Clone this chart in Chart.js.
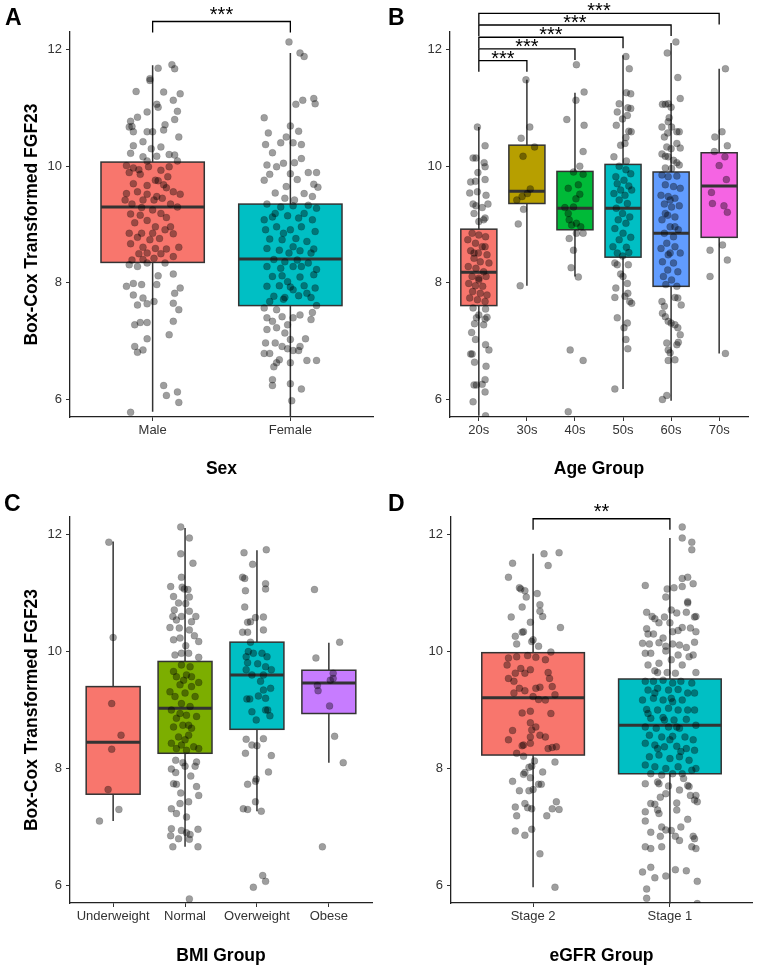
<!DOCTYPE html>
<html>
<head>
<meta charset="utf-8">
<title>FGF23 box plots</title>
<script src="https://cdn.jsdelivr.net/npm/chart.js@4.4.1/dist/chart.umd.min.js"></script>
<style>
  body { margin: 0; background: #fff; }
  .panel { position: absolute; }
  .tag { position: absolute; font: bold 23px 'Liberation Sans', Arial, sans-serif; line-height: 23px; color: #000; }
</style>
</head>
<body>
<canvas id="chartA" class="panel" width="378" height="480" style="left:0;top:0"></canvas>
<canvas id="chartB" class="panel" width="379" height="480" style="left:378px;top:0"></canvas>
<canvas id="chartC" class="panel" width="378" height="488" style="left:0;top:480px"></canvas>
<canvas id="chartD" class="panel" width="379" height="488" style="left:378px;top:480px"></canvas>
<div class="tag" style="left:5px;top:6px">A</div>
<div class="tag" style="left:388px;top:6px">B</div>
<div class="tag" style="left:4px;top:492px">C</div>
<div class="tag" style="left:388px;top:492px">D</div>
<script>
// ---- data ----
const yTicks = [6, 8, 10, 12];

// box stats: [lower whisker, Q1, median, Q3, upper whisker]
const sexGroups = ['Male', 'Female'];
const sexBoxes = [[5.79, 8.35, 9.30, 10.07, 11.73], [5.70, 7.61, 8.41, 9.35, 11.94]];
const sexColors = ['#F8766D', '#00BFC4'];
const sexBrackets = [[1, 2, 12.48, '***']];

const ageGroups = ['20s', '30s', '40s', '50s', '60s', '70s'];
const ageBoxes = [
  [5.72, 7.61, 8.18, 8.92, 10.67],
  [7.95, 9.36, 9.57, 10.36, 11.48],
  [8.11, 8.91, 9.28, 9.91, 11.26],
  [6.18, 8.44, 9.28, 10.03, 11.90],
  [5.98, 7.94, 8.85, 9.90, 12.11],
  [6.79, 8.78, 9.66, 10.23, 11.67]
];
const ageColors = ['#F8766D', '#B79F00', '#00BA38', '#00BFC4', '#619CFF', '#F564E3'];
const ageBrackets = [[1, 2, 11.81, '***'], [1, 3, 12.01, '***'], [1, 4, 12.21, '***'], [1, 5, 12.42, '***'], [1, 6, 12.62, '***']];

const bmiGroups = ['Underweight', 'Normal', 'Overweight', 'Obese'];
const bmiBoxes = [
  [7.10, 7.56, 8.45, 9.40, 11.88],
  [6.66, 8.26, 9.03, 9.83, 12.11],
  [7.27, 8.67, 9.60, 10.16, 11.73],
  [8.10, 8.94, 9.46, 9.68, 10.15]
];
const bmiColors = ['#F8766D', '#7CAE00', '#00BFC4', '#C77CFF'];
const bmiBrackets = [];

const egfrGroups = ['Stage 2', 'Stage 1'];
const egfrBoxes = [[5.97, 8.23, 9.21, 9.98, 11.67], [5.69, 7.91, 8.74, 9.53, 11.94]];
const egfrColors = ['#F8766D', '#00BFC4'];
const egfrBrackets = [[1, 2, 12.27, '**']];

// jittered observations: [horizontal jitter (category units), value]
const ptsMale = [[0.14,11.74],[0.16,11.67],[0.04,11.68],[-0.02,11.50],[-0.02,11.47],[-0.12,11.28],[0.08,11.27],[0.20,11.24],[0.15,11.13],[0.03,11.06],[0.04,11.01],[-0.04,10.93],[0.18,10.94],[-0.11,10.84],[-0.16,10.77],[-0.15,10.68],[-0.17,10.67],[0.16,10.80],[0.09,10.71],[-0.14,10.59],[-0.04,10.59],[0.00,10.59],[0.08,10.62],[0.19,10.50],[-0.07,10.42],[-0.14,10.35],[0.06,10.33],[-0.01,10.30],[0.12,10.20],[0.16,10.19],[-0.16,10.22],[-0.07,10.16],[0.03,10.17],[0.18,10.09],[-0.04,10.09],
  [-0.19,10.01],[-0.14,9.97],[-0.10,9.94],[-0.03,9.99],[0.06,9.93],[0.12,9.99],[-0.17,9.89],[-0.09,9.86],[0.02,9.76],[0.11,9.82],[-0.14,9.70],[-0.04,9.67],[0.04,9.75],[0.10,9.63],[0.15,9.56],[0.20,9.52],[-0.19,9.53],[-0.11,9.56],[-0.04,9.52],[0.01,9.42],[0.07,9.45],[-0.20,9.42],[-0.15,9.35],[-0.08,9.29],[0.00,9.25],[0.13,9.35],[0.18,9.30],[-0.16,9.18],[-0.09,9.16],[0.06,9.19],[0.10,9.12],[-0.13,9.03],[-0.04,9.07],[0.02,8.96],[0.09,8.91],[-0.17,8.85],[0.15,8.84],[-0.11,8.78],[-0.02,8.74],[0.05,8.76],[-0.16,8.67],[-0.07,8.61],[0.02,8.59],[0.10,8.58],[0.19,8.61],[-0.10,8.50],[-0.04,8.51],[0.06,8.50],[0.15,8.45],[-0.15,8.39],[-0.07,8.40],[0.01,8.42],[0.08,9.68],[0.03,9.48],[-0.07,9.42],[0.13,8.96],[0.00,8.85],[-0.08,8.85],
  [-0.11,8.28],[-0.04,8.34],[0.09,8.34],[0.15,8.15],[-0.17,8.31],[0.04,8.12],[0.03,7.97],[-0.19,7.94],[-0.14,7.99],[0.20,7.91],[0.16,7.82],[-0.08,7.97],[-0.14,7.79],[-0.07,7.74],[-0.11,7.62],[-0.04,7.64],[0.01,7.68],[0.15,7.65],[0.19,7.54],[-0.13,7.28],[-0.09,7.32],[-0.04,7.32],[0.15,7.34],[0.12,7.11],[-0.04,7.04],[-0.13,6.91],[-0.11,6.81],[-0.07,6.85],[0.08,6.24],[0.10,6.07],[0.18,6.13],[0.19,5.95],[-0.16,5.78]];
const ptsFemale = [[-0.01,12.13],[0.07,11.94],[0.10,11.88],[0.17,11.16],[0.18,11.07],[0.09,11.13],[0.04,11.06],[-0.19,10.83],[0.00,10.69],[-0.16,10.57],[0.06,10.60],[-0.03,10.50],[-0.07,10.40],[0.02,10.40],[-0.18,10.37],[0.08,10.37],[-0.13,10.23],[0.08,10.13],[-0.05,10.05],[0.03,10.06],[-0.17,10.02],[-0.10,9.99],[0.19,9.89],[0.13,9.89],[-0.15,9.86],[0.00,9.87],[-0.19,9.76],[0.05,9.77],[0.17,9.69],[-0.03,9.65],[-0.11,9.54],[0.20,9.64],[0.10,9.53],[0.16,9.48],[-0.04,9.45],[0.03,9.42],
  [-0.17,9.35],[-0.07,9.30],[0.02,9.32],[0.13,9.33],[0.19,9.28],[-0.13,9.13],[-0.02,9.15],[0.06,9.11],[0.16,9.08],[-0.18,8.91],[-0.10,8.96],[0.00,8.91],[0.08,8.96],[0.18,8.88],[-0.15,8.75],[-0.06,8.74],[0.04,8.76],[0.12,8.71],[-0.17,8.59],[-0.08,8.56],[-0.01,8.51],[0.07,8.55],[0.17,8.58],[-0.12,8.40],[-0.04,8.36],[0.05,8.39],[0.13,8.34],[-0.17,8.28],[-0.07,8.25],[0.02,8.28],[0.19,8.23],[-0.13,8.11],[-0.06,8.12],[0.07,8.10],[0.17,8.14],[-0.17,7.94],[-0.08,7.95],[0.00,7.93],[0.10,7.95],[0.18,7.91],[-0.12,7.77],[-0.04,7.75],[0.06,7.78],[0.15,7.75],[-0.15,7.68],[-0.05,7.72],[0.02,7.88],[0.12,7.82],[-0.11,9.19],[0.10,9.19],[-0.19,9.08],[-0.05,8.85],[0.15,8.51],[0.02,8.62],[0.08,8.28],[-0.02,8.02],
  [-0.19,7.57],[-0.10,7.54],[0.19,7.61],[0.16,7.49],[-0.17,7.40],[-0.06,7.42],[0.02,7.40],[0.15,7.37],[-0.13,7.34],[-0.02,7.28],[0.07,7.45],[-0.17,7.20],[-0.10,7.23],[-0.04,7.14],[0.00,7.03],[0.11,7.04],[-0.18,6.97],[-0.11,6.97],[-0.06,6.91],[-0.02,6.87],[0.07,6.91],[-0.19,6.79],[-0.15,6.79],[0.02,6.84],[0.06,6.84],[-0.08,6.68],[-0.10,6.63],[-0.12,6.56],[0.00,6.63],[0.12,6.67],[0.19,6.67],[-0.13,6.34],[-0.13,6.24],[0.00,6.27],[0.08,6.18],[0.01,5.98]];

const pts20s = [[-0.03,10.67],[0.13,10.35],[-0.12,10.14],[-0.06,10.14],[0.11,10.06],[0.13,9.99],[-0.02,9.89],[0.13,9.77],[-0.17,9.73],[-0.07,9.74],[-0.19,9.54],[-0.03,9.56],[0.15,9.50],[-0.12,9.35],[-0.06,9.32],[0.19,9.35],[0.07,9.29],[-0.10,9.19],[0.13,9.11],[0.00,9.05],[0.10,9.08],
  [-0.14,8.85],[0.00,8.82],[0.14,8.79],[-0.23,8.74],[-0.07,8.68],[0.07,8.62],[-0.17,8.55],[-0.01,8.51],[0.17,8.48],[-0.10,8.42],[0.03,8.36],[0.21,8.34],[-0.22,8.28],[-0.06,8.25],[0.10,8.19],[-0.14,8.11],[0.00,8.08],[0.15,8.11],[-0.21,7.99],[-0.07,7.95],[0.08,7.94],[-0.13,7.85],[0.03,7.82],[0.17,7.79],[-0.19,7.74],[-0.03,7.71],[0.13,7.68],[-0.10,8.51],[0.13,8.62],[0.00,8.05],
  [-0.12,7.57],[0.14,7.55],[0.00,7.45],[-0.05,7.40],[0.13,7.38],[0.17,7.41],[-0.09,7.30],[0.10,7.28],[-0.15,7.15],[-0.07,7.03],[0.14,6.94],[0.21,6.85],[-0.17,6.78],[-0.14,6.78],[-0.09,6.64],[0.15,6.57],[0.13,6.34],[-0.10,6.25],[-0.05,6.25],[0.07,6.26],[0.13,6.13],[-0.12,5.96],[0.14,5.72]];
const pts30s = [[-0.02,11.48],[0.06,10.67],[-0.12,10.48],[0.16,10.33],[-0.08,10.17],[0.07,9.61],[0.01,9.53],[-0.10,9.48],[-0.21,9.42],[-0.07,9.26],[-0.18,9.01],[-0.14,7.95]];
const pts40s = [[0.03,11.74],[0.19,11.27],[0.02,11.13],[-0.17,10.80],[0.19,10.70],[0.17,10.25],[0.10,10.00],[-0.03,9.90],[0.17,9.86],[0.07,9.68],[-0.14,9.62],[0.10,9.52],[0.02,9.44],[-0.21,9.29],[-0.03,9.30],[-0.14,9.19],[-0.12,9.08],[0.03,9.02],[0.12,8.96],[-0.07,8.99],[0.17,8.85],[0.03,8.85],[-0.12,8.76],[-0.03,8.56],[-0.08,8.26],[0.07,8.10],[-0.10,6.85],[0.17,6.67],[-0.14,5.79]];
const pts50s = [[0.06,11.88],[0.13,11.67],[0.07,11.26],[0.16,11.24],[-0.08,11.07],[0.10,11.00],[0.16,10.99],[-0.12,10.93],[0.09,10.87],[-0.01,10.81],[-0.14,10.70],[0.12,10.60],[0.17,10.59],[0.06,10.49],[-0.05,10.36],[0.04,10.39],[-0.19,10.16],[0.07,10.09],[-0.08,10.00],[0.06,9.94],[0.16,9.87],
  [-0.15,9.82],[0.02,9.76],[-0.12,9.70],[0.12,9.66],[-0.05,9.59],[0.18,9.59],[-0.19,9.53],[0.04,9.50],[-0.08,9.42],[0.09,9.36],[-0.14,9.28],[-0.01,9.19],[0.14,9.13],[-0.10,9.08],[0.06,9.02],[-0.17,8.93],[0.00,8.85],[0.16,8.78],[-0.08,8.74],[-0.21,8.62],[0.07,8.61],[-0.12,8.51],[0.12,8.52],[-0.01,8.46],
  [-0.17,8.34],[-0.12,8.31],[0.11,8.31],[-0.05,8.15],[0.00,8.11],[0.09,7.99],[-0.15,7.91],[-0.17,7.75],[0.10,7.82],[0.14,7.68],[0.18,7.65],[0.04,7.77],[-0.12,7.40],[0.09,7.31],[0.02,7.23],[0.06,7.03],[0.10,6.87],[-0.17,6.18]];
const pts60s = [[0.10,12.13],[-0.08,11.94],[0.14,11.52],[0.19,11.16],[-0.18,11.06],[-0.12,11.06],[-0.06,11.07],[0.00,11.01],[-0.04,10.83],[-0.06,10.76],[-0.19,10.67],[0.01,10.67],[0.12,10.59],[0.17,10.59],[-0.07,10.57],[-0.14,10.50],[0.12,10.39],[0.19,10.31],[-0.09,10.33],[0.00,10.30],[-0.19,10.21],[-0.12,10.17],[-0.06,10.16],[0.05,10.10],[0.12,10.06],[0.17,10.02],[-0.12,9.97],[0.01,9.96],
  [-0.19,9.85],[-0.06,9.82],[0.12,9.83],[-0.12,9.68],[0.05,9.65],[0.19,9.62],[-0.21,9.50],[-0.06,9.48],[0.08,9.45],[-0.14,9.35],[0.01,9.30],[0.17,9.32],[-0.07,9.16],[0.08,9.13],[-0.19,9.08],[-0.02,8.96],[0.15,8.91],[-0.14,8.85],[0.05,8.79],[-0.09,8.68],[-0.21,8.59],[0.08,8.62],[0.19,8.51],[-0.06,8.48],[-0.18,8.36],[0.05,8.34],[-0.07,8.22],[0.14,8.19],[-0.16,8.11],[0.01,8.05],[-0.11,7.97],[0.12,7.94],[-0.02,9.42],[-0.12,9.19],[0.08,8.96],[-0.02,8.51],
  [0.08,7.75],[0.14,7.74],[0.21,7.62],[-0.19,7.68],[-0.14,7.60],[-0.18,7.48],[-0.12,7.42],[-0.06,7.34],[0.00,7.31],[0.08,7.28],[0.14,7.23],[0.19,7.11],[-0.09,6.97],[-0.06,6.85],[0.12,6.94],[0.15,6.98],[-0.02,6.80],[0.08,6.68],[-0.06,6.67],[-0.18,6.00],[-0.09,6.07]];
const pts70s = [[0.13,11.67],[-0.09,10.50],[0.06,10.59],[0.17,10.35],[-0.10,10.25],[0.12,10.16],[0.00,10.01],[0.15,9.77],[-0.16,9.55],[-0.14,9.36],[0.10,9.32],[0.17,9.21],[0.07,8.65],[-0.19,8.56],[0.17,8.39],[-0.19,8.11],[0.13,6.79]];

const ptsUnder = [[-0.06,11.87],[0.00,10.24],[-0.02,9.11],[0.11,8.57],[-0.02,8.33],[-0.07,7.64],[0.08,7.30],[-0.19,7.10]];
const ptsNormal = [[-0.06,12.13],[0.06,11.94],[-0.06,11.67],[0.11,11.51],[-0.05,11.27],[-0.20,11.11],[-0.04,11.10],[-0.01,11.07],[0.04,11.06],[-0.16,10.94],[0.06,10.93],[-0.09,10.83],[-0.15,10.71],[0.01,10.82],[0.06,10.69],[-0.17,10.60],[-0.05,10.60],[0.15,10.60],[-0.12,10.54],[0.09,10.51],[-0.21,10.41],[-0.08,10.40],[0.06,10.37],[0.13,10.27],[-0.07,10.23],[-0.16,10.20],[0.19,10.17],[0.01,10.10],[-0.14,9.94],[0.05,9.97],[-0.05,9.97],[0.19,9.90],
  [-0.16,9.66],[-0.05,9.77],[0.07,9.74],[0.19,9.47],[-0.12,9.57],[0.02,9.60],[-0.21,9.31],[-0.07,9.43],[0.09,9.40],[-0.14,9.23],[0.00,9.29],[0.14,9.23],[-0.19,9.00],[-0.05,9.11],[0.07,9.06],[-0.12,8.86],[0.02,8.91],[0.16,8.89],[-0.16,8.71],[-0.03,8.74],[0.09,8.69],[-0.09,8.54],[0.05,8.57],[-0.19,8.43],[-0.05,8.40],[0.12,8.37],[0.19,8.34],[-0.12,8.34],[0.02,8.31],[-0.02,9.51],[-0.07,8.94],[0.05,8.74],[0.00,8.49],[0.09,9.57],
  [-0.13,8.14],[-0.03,8.10],[0.16,8.11],[-0.19,7.99],[-0.13,7.93],[0.00,8.04],[0.08,7.87],[0.14,8.04],[-0.16,7.74],[-0.12,7.73],[-0.06,7.58],[0.16,7.69],[0.19,7.54],[0.05,7.43],[-0.07,7.40],[-0.19,7.31],[-0.12,7.23],[0.02,7.17],[-0.19,6.97],[-0.05,6.94],[0.02,6.90],[0.07,6.87],[0.18,6.96],[-0.20,6.85],[-0.09,6.80],[0.06,6.79],[-0.17,6.66],[0.18,6.66],[0.06,5.77]];
const ptsOver = [[-0.18,11.69],[0.13,11.74],[-0.06,11.49],[-0.20,11.27],[-0.17,11.25],[0.12,11.16],[0.12,11.07],[-0.16,11.04],[-0.17,10.76],[0.09,10.59],[-0.02,10.58],[-0.13,10.50],[-0.09,10.51],[-0.20,10.33],[-0.13,10.33],[0.09,10.37],[-0.09,10.16],[-0.12,10.00],[-0.05,9.97],[0.07,9.97],[0.14,9.91],[-0.15,9.91],[-0.13,9.81],[0.01,9.79],[0.12,9.74],[0.20,9.69],[-0.15,9.69],[-0.07,9.60],[0.09,9.60],[0.05,9.49],[0.19,9.37],[0.09,9.34],[0.02,9.24],[-0.14,9.19],[-0.10,9.19],[0.12,9.20],[-0.07,8.97],[0.12,9.00],[0.15,9.00],[0.18,8.90],[-0.01,8.83],
  [-0.15,8.50],[0.09,8.51],[-0.07,8.40],[0.00,8.39],[-0.16,8.26],[0.20,8.22],[0.16,7.94],[-0.01,7.82],[-0.02,7.78],[-0.13,7.73],[-0.02,7.43],[-0.19,7.31],[-0.13,7.30],[0.06,7.27],[0.08,6.17],[0.12,6.07],[-0.05,5.97]];
const ptsObese = [[-0.20,11.06],[0.15,10.16],[-0.18,9.89],[0.06,9.63],[0.02,9.51],[0.06,9.54],[-0.16,9.42],[-0.15,9.33],[0.01,9.07],[0.08,8.55],[0.20,8.10],[-0.09,6.66]];

const ptsStage2 = [[0.19,11.69],[0.08,11.67],[0.11,11.47],[-0.15,11.51],[-0.18,11.27],[-0.10,11.09],[-0.09,11.07],[-0.06,11.04],[0.03,10.99],[-0.05,10.93],[0.05,10.80],[-0.08,10.76],[0.05,10.69],[0.07,10.60],[-0.16,10.59],[-0.02,10.50],[0.20,10.41],[-0.07,10.34],[-0.08,10.33],[-0.13,10.26],[0.00,10.20],[-0.01,10.17],[-0.12,10.13],[0.04,10.09],[0.13,9.99],
  [-0.18,9.89],[-0.12,9.91],[-0.04,9.93],[0.02,9.90],[0.09,9.86],[-0.19,9.77],[-0.09,9.71],[-0.02,9.69],[0.11,9.64],[-0.18,9.54],[-0.13,9.63],[-0.06,9.63],[0.12,9.54],[-0.14,9.49],[-0.10,9.37],[0.02,9.37],[0.05,9.39],[-0.06,9.33],[0.16,9.26],[0.00,9.23],[0.09,9.17],[0.04,9.18],[-0.08,8.95],[-0.02,8.98],[0.13,8.94],[-0.02,8.78],[0.02,8.71],[-0.01,8.66],[-0.15,8.65],[0.05,8.57],[0.09,8.54],[-0.02,8.54],[-0.18,8.49],[-0.07,8.40],[-0.08,8.39],[-0.02,8.43],[0.11,8.34],[0.17,8.37],[0.14,8.36],[-0.14,9.29],[0.14,9.40],
  [-0.12,8.26],[-0.07,8.21],[0.01,8.13],[0.16,8.11],[-0.01,8.04],[-0.03,8.02],[-0.06,7.93],[-0.07,7.90],[0.07,7.94],[-0.02,7.84],[-0.15,7.78],[0.04,7.73],[0.06,7.73],[-0.10,7.62],[-0.03,7.62],[0.00,7.64],[-0.13,7.34],[-0.06,7.40],[-0.01,7.31],[-0.04,7.33],[0.17,7.43],[0.14,7.31],[0.19,7.30],[-0.12,7.19],[0.10,7.19],[-0.13,6.93],[-0.01,6.96],[-0.06,6.86],[0.05,6.54],[0.16,5.97]];
const ptsStage1 = [[0.09,12.13],[0.09,11.94],[0.16,11.87],[0.16,11.74],[0.13,11.27],[0.09,11.25],[0.17,11.16],[-0.18,11.13],[0.09,11.11],[-0.02,11.07],[0.03,11.09],[-0.03,10.93],[0.13,10.85],[0.13,10.83],[0.01,10.71],[-0.17,10.67],[0.05,10.66],[0.12,10.67],[-0.13,10.60],[-0.11,10.56],[0.19,10.60],[0.18,10.59],[-0.04,10.59],[-0.08,10.49],[0.00,10.49],[0.09,10.41],[0.02,10.34],[-0.17,10.39],[0.15,10.40],[0.19,10.34],[-0.16,10.30],[-0.12,10.30],[0.06,10.36],[-0.05,10.23],[-0.20,10.14],[-0.15,10.13],[-0.08,10.15],[-0.03,10.09],[0.02,10.13],[0.07,10.11],[0.12,10.07],[0.18,10.16],[-0.03,10.01],[-0.18,9.97],[-0.14,9.97],[0.06,9.94],[0.14,9.91],[0.17,9.94],[-0.16,9.77],[-0.08,9.80],[0.01,9.86],[0.09,9.77],[0.19,9.64],[-0.11,9.67],[-0.09,9.64],[-0.02,9.64],[0.04,9.63],
  [-0.18,9.49],[-0.12,9.49],[-0.05,9.51],[0.02,9.46],[0.08,9.49],[0.16,9.46],[-0.16,9.34],[-0.09,9.37],[-0.01,9.34],[0.06,9.35],[0.13,9.29],[0.18,9.29],[-0.20,9.17],[-0.12,9.20],[-0.05,9.17],[0.02,9.14],[0.09,9.17],[-0.17,9.01],[-0.09,9.00],[-0.01,9.03],[0.06,9.00],[0.18,9.00],[-0.14,8.86],[-0.05,8.87],[0.03,8.83],[0.12,8.84],[-0.18,8.71],[-0.10,8.69],[-0.01,8.71],[0.07,8.69],[0.19,8.74],[-0.15,8.57],[-0.06,8.54],[0.02,8.55],[0.11,8.54],[0.17,8.49],[-0.18,8.43],[-0.11,8.40],[-0.04,8.37],[0.05,8.38],[0.12,8.34],[0.18,8.31],[-0.15,8.20],[-0.08,8.23],[0.00,8.17],[0.07,8.20],[0.14,8.14],[-0.18,8.06],[-0.11,8.03],[-0.03,8.00],[0.06,8.03],[0.19,8.00],[-0.14,7.91],[-0.06,7.89],[0.02,7.91],[0.09,7.91],[0.16,7.97],[-0.11,9.29],[-0.04,8.83],[0.05,8.71],[0.00,8.49],[-0.09,8.34],[0.08,8.29],[0.01,9.20],[0.13,9.00],[-0.16,8.94],
  [-0.18,7.74],[-0.09,7.77],[-0.08,7.74],[0.10,7.83],[0.13,7.71],[0.14,7.69],[-0.01,7.70],[-0.03,7.57],[0.07,7.63],[0.15,7.54],[0.19,7.54],[0.18,7.46],[0.20,7.43],[-0.07,7.51],[0.05,7.41],[-0.14,7.40],[-0.11,7.39],[-0.18,7.26],[-0.09,7.29],[0.05,7.29],[-0.08,7.23],[0.13,7.13],[-0.18,7.10],[-0.06,7.00],[0.08,7.00],[0.01,6.94],[-0.03,6.95],[-0.14,6.91],[-0.07,6.84],[0.04,6.84],[0.07,6.77],[0.17,6.84],[0.18,6.80],[-0.18,6.66],[-0.14,6.63],[-0.06,6.66],[0.16,6.66],[0.19,6.63],[-0.20,6.23],[-0.14,6.31],[-0.11,6.13],[-0.03,6.16],[0.04,6.27],[0.12,6.25],[0.20,6.07],[-0.17,5.94],[-0.17,5.78],[0.20,5.69]];

// ---- drawing ----
Chart.defaults.font.family = "'Liberation Sans', Arial, Helvetica, sans-serif";
Chart.defaults.color = '#333';

const FONT = "'Liberation Sans', Arial, Helvetica, sans-serif";
const INK = '#333';

function makePanel(id, cfg) {
    const canvas = document.getElementById(id);
    const W = canvas.width, H = canvas.height;
    const area = cfg.area;

    // boxes, whiskers and significance brackets, drawn through the chart's own scales
    const boxPlugin = {
        id: 'boxes_' + id,
        beforeDatasetsDraw(chart) {
            const {ctx, scales: {x, y}} = chart;
            ctx.save();
            cfg.boxes.forEach((b, i) => {
                const cx = x.getPixelForValue(i + 1);
                const x0 = x.getPixelForValue(i + 1 - 0.375);
                const x1 = x.getPixelForValue(i + 1 + 0.375);
                const [lo, q1, med, q3, hi] = b.map(v => y.getPixelForValue(v));
                ctx.strokeStyle = INK;
                ctx.lineWidth = 1.5;
                ctx.beginPath();
                ctx.moveTo(cx, lo); ctx.lineTo(cx, q1);
                ctx.moveTo(cx, q3); ctx.lineTo(cx, hi);
                ctx.stroke();
                ctx.fillStyle = cfg.colors[i];
                ctx.fillRect(x0, q3, x1 - x0, q1 - q3);
                ctx.strokeRect(x0, q3, x1 - x0, q1 - q3);
                ctx.lineWidth = 3;
                ctx.beginPath();
                ctx.moveTo(x0, med); ctx.lineTo(x1, med);
                ctx.stroke();
            });
            ctx.restore();
        },
        afterDraw(chart) {
            const {ctx, scales: {x, y}} = chart;
            ctx.save();
            ctx.strokeStyle = '#000';
            ctx.fillStyle = '#000';
            ctx.lineWidth = 1.3;
            ctx.font = '20px ' + FONT;
            ctx.textAlign = 'center';
            cfg.brackets.forEach(([from, to, level, label]) => {
                const xa = x.getPixelForValue(from), xb = x.getPixelForValue(to);
                const yl = y.getPixelForValue(level), yt = y.getPixelForValue(level - 0.19);
                ctx.beginPath();
                ctx.moveTo(xa, yt); ctx.lineTo(xa, yl); ctx.lineTo(xb, yl); ctx.lineTo(xb, yt);
                ctx.stroke();
                const m = ctx.measureText(label);
                ctx.fillText(label, (xa + xb) / 2, yl - cfg.starGap - m.actualBoundingBoxDescent);
            });
            ctx.restore();
        }
    };

    const datasets = cfg.points.map((pts, gi) => ({
        data: pts.map(p => ({x: gi + 1 + p[0], y: p[1]})),
        pointRadius: 3.5,
        pointHoverRadius: 3.5,
        backgroundColor: 'rgba(0,0,0,0.38)',
        borderColor: 'rgba(0,0,0,0.22)',
        borderWidth: 0.6
    }));

    new Chart(canvas, {
        type: 'scatter',
        data: {datasets},
        options: {
            responsive: false,
            animation: false,
            events: [],
            layout: {padding: {left: 0, top: area.top, right: W - area.right, bottom: 0}},
            plugins: {legend: {display: false}, tooltip: {enabled: false}},
            scales: {
                x: {
                    type: 'linear',
                    min: 0.4,
                    max: cfg.groups.length + 0.6,
                    afterBuildTicks: s => { s.ticks = cfg.groups.map((g, i) => ({value: i + 1})); },
                    afterFit: s => { s.height = H - area.bottom; },
                    ticks: {callback: v => cfg.groups[v - 1], autoSkip: false, maxRotation: 0, padding: 2, color: INK, font: {size: 13}},
                    grid: {drawOnChartArea: false, tickLength: 4, color: INK},
                    border: {color: '#222', width: 1.3},
                    title: {display: true, text: cfg.xTitle, color: '#000', font: {size: 17.5, weight: 'bold'}, padding: {top: 0, bottom: cfg.xTitlePad}}
                },
                y: {
                    min: 5.7,
                    max: 12.3,
                    afterBuildTicks: s => { s.ticks = yTicks.map(v => ({value: v})); },
                    afterFit: s => { s.width = area.left; },
                    ticks: {padding: 4, color: INK, font: {size: 13}},
                    grid: {drawOnChartArea: false, tickLength: 4, color: INK},
                    border: {color: '#222', width: 1.3},
                    title: {display: !!cfg.yTitle, text: cfg.yTitle || '', color: '#000', font: {size: 17.5, weight: 'bold'}, padding: {top: 21.5, bottom: 0}}
                }
            }
        },
        plugins: [boxPlugin]
    });
}

makePanel('chartA', {
    groups: sexGroups, boxes: sexBoxes, colors: sexColors, brackets: sexBrackets,
    points: [ptsMale, ptsFemale], xTitle: 'Sex', yTitle: 'Box-Cox Transformed FGF23',
    area: {left: 70, top: 32, right: 373, bottom: 417}, xTitlePad: 0, starGap: 6.5
});
makePanel('chartB', {
    groups: ageGroups, boxes: ageBoxes, colors: ageColors, brackets: ageBrackets,
    points: [pts20s, pts30s, pts40s, pts50s, pts60s, pts70s], xTitle: 'Age Group', yTitle: null,
    area: {left: 72, top: 32, right: 370, bottom: 417}, xTitlePad: 0, starGap: 2
});
makePanel('chartC', {
    groups: bmiGroups, boxes: bmiBoxes, colors: bmiColors, brackets: bmiBrackets,
    points: [ptsUnder, ptsNormal, ptsOver, ptsObese], xTitle: 'BMI Group', yTitle: 'Box-Cox Transformed FGF23',
    area: {left: 70, top: 37, right: 372, bottom: 423}, xTitlePad: 1.5, starGap: 6.5
});
makePanel('chartD', {
    groups: egfrGroups, boxes: egfrBoxes, colors: egfrColors, brackets: egfrBrackets,
    points: [ptsStage2, ptsStage1], xTitle: 'eGFR Group', yTitle: null,
    area: {left: 73, top: 37, right: 374, bottom: 423}, xTitlePad: 1.5, starGap: 6.5
});
</script>
</body>
</html>
